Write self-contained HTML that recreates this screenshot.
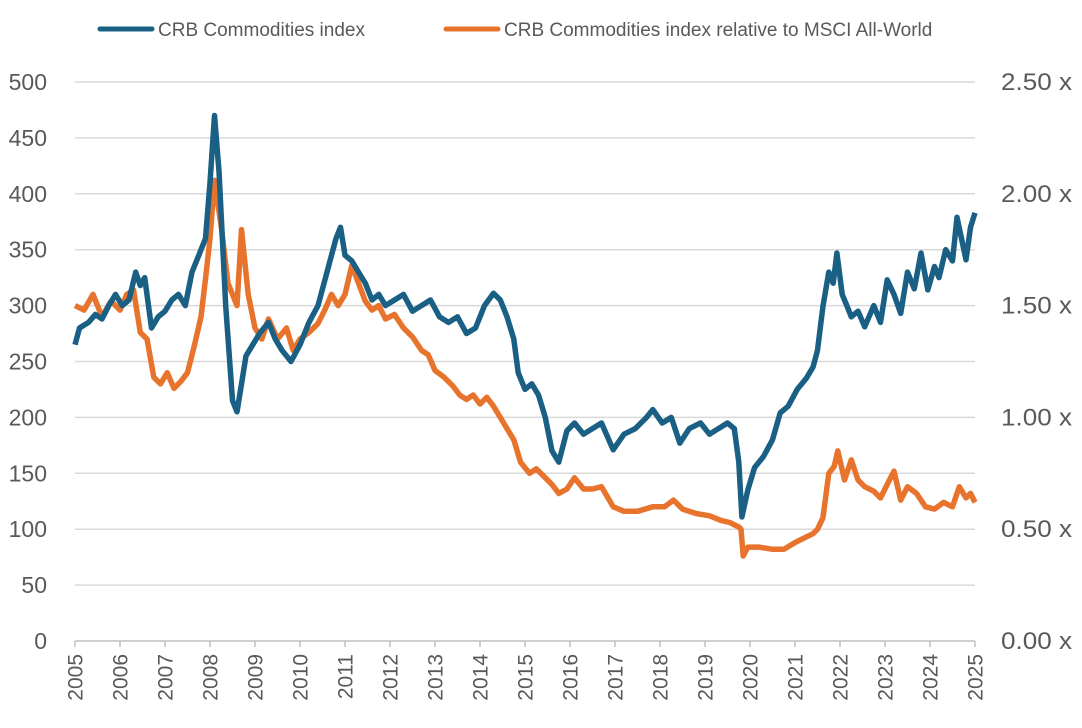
<!DOCTYPE html>
<html><head><meta charset="utf-8"><style>
body{margin:0;background:#fff;}
svg{display:block;font-family:"Liberation Sans",sans-serif;}
</style></head><body>
<svg id="chart" width="1082" height="728" viewBox="0 0 1082 728">
<g id="legend">
<g><line x1="100" y1="29" x2="152" y2="29" stroke="#1a5f84" stroke-width="5" stroke-linecap="round"/><text x="158" y="36" font-size="19" fill="#595959">CRB Commodities index</text></g>
<g><line x1="446" y1="29" x2="498" y2="29" stroke="#e8732c" stroke-width="5" stroke-linecap="round"/><text x="504" y="36" font-size="19" fill="#595959">CRB Commodities index relative to MSCI All-World</text></g>
</g>
<g id="grid"></g>
<g id="ylab"></g>
<g id="y2lab"></g>
<g id="xlab"></g>
<g id="series"></g>
</svg>
<script>
const leftTicks=[0,50,100,150,200,250,300,350,400,450,500];
const rightTicks=["0.00 x","0.50 x","1.00 x","1.50 x","2.00 x","2.50 x"];
const rightTickVals=[0,0.5,1,1.5,2,2.5];
const years=[2005,2006,2007,2008,2009,2010,2011,2012,2013,2014,2015,2016,2017,2018,2019,2020,2021,2022,2023,2024,2025];
const crbT=[2005.0,2005.1,2005.3,2005.45,2005.6,2005.75,2005.9,2006.05,2006.2,2006.35,2006.45,2006.55,2006.7,2006.85,2007.0,2007.15,2007.3,2007.45,2007.6,2007.75,2007.9,2008.0,2008.1,2008.2,2008.35,2008.5,2008.6,2008.7,2008.8,2008.95,2009.1,2009.3,2009.45,2009.6,2009.8,2010.0,2010.2,2010.4,2010.6,2010.8,2010.9,2011.0,2011.15,2011.3,2011.45,2011.6,2011.75,2011.9,2012.1,2012.3,2012.5,2012.7,2012.9,2013.1,2013.3,2013.5,2013.7,2013.9,2014.1,2014.3,2014.45,2014.6,2014.75,2014.85,2015.0,2015.15,2015.3,2015.45,2015.6,2015.75,2015.93,2016.1,2016.3,2016.5,2016.7,2016.96,2017.2,2017.45,2017.7,2017.84,2018.05,2018.25,2018.44,2018.65,2018.9,2019.1,2019.3,2019.5,2019.65,2019.75,2019.82,2019.95,2020.1,2020.3,2020.5,2020.67,2020.85,2021.05,2021.25,2021.4,2021.5,2021.62,2021.75,2021.85,2021.93,2022.05,2022.15,2022.25,2022.4,2022.55,2022.75,2022.9,2023.05,2023.2,2023.35,2023.5,2023.65,2023.8,2023.95,2024.1,2024.2,2024.35,2024.5,2024.6,2024.7,2024.8,2024.9,2025.0];
const crbV=[265,280,285,292,288,300,310,300,305,330,318,325,280,290,295,305,310,300,330,345,360,410,470,420,300,215,205,230,255,265,275,285,270,260,250,265,285,300,330,360,370,345,340,330,320,305,310,300,305,310,295,300,305,290,285,290,275,280,300,311,305,290,270,240,225,230,220,200,170,160,188,195,185,190,195,171,185,190,200,207,195,200,177,190,195,185,190,195,190,160,111,135,155,165,180,204,210,225,235,245,260,299,330,320,347,310,300,290,295,281,300,285,323,310,293,330,315,347,314,335,325,350,340,379,360,341,370,383];
const relT=[2005.0,2005.2,2005.4,2005.6,2005.8,2006.0,2006.15,2006.3,2006.45,2006.6,2006.75,2006.9,2007.05,2007.2,2007.35,2007.5,2007.65,2007.8,2007.9,2008.0,2008.1,2008.25,2008.4,2008.6,2008.7,2008.85,2009.0,2009.15,2009.3,2009.5,2009.7,2009.85,2010.0,2010.2,2010.4,2010.55,2010.7,2010.85,2011.0,2011.15,2011.3,2011.45,2011.6,2011.75,2011.9,2012.1,2012.3,2012.5,2012.7,2012.85,2013.0,2013.2,2013.4,2013.55,2013.7,2013.85,2014.0,2014.15,2014.3,2014.45,2014.6,2014.75,2014.9,2015.1,2015.25,2015.45,2015.6,2015.75,2015.93,2016.1,2016.3,2016.5,2016.7,2016.96,2017.2,2017.5,2017.84,2018.1,2018.3,2018.5,2018.8,2019.1,2019.35,2019.55,2019.75,2019.8,2019.85,2019.95,2020.2,2020.5,2020.75,2021.0,2021.2,2021.4,2021.5,2021.62,2021.75,2021.87,2021.95,2022.1,2022.25,2022.4,2022.55,2022.75,2022.9,2023.05,2023.2,2023.35,2023.5,2023.7,2023.9,2024.1,2024.3,2024.5,2024.65,2024.8,2024.9,2025.0];
const relV=[1.50,1.48,1.55,1.45,1.52,1.48,1.55,1.57,1.38,1.35,1.18,1.15,1.20,1.13,1.16,1.20,1.32,1.45,1.62,1.80,2.06,1.85,1.60,1.50,1.84,1.55,1.40,1.35,1.44,1.35,1.40,1.30,1.35,1.38,1.42,1.48,1.55,1.50,1.55,1.68,1.60,1.52,1.48,1.50,1.44,1.46,1.40,1.36,1.30,1.28,1.21,1.18,1.14,1.10,1.08,1.10,1.06,1.09,1.05,1.00,0.95,0.90,0.80,0.75,0.77,0.73,0.70,0.66,0.68,0.73,0.68,0.68,0.69,0.60,0.58,0.58,0.60,0.60,0.63,0.59,0.57,0.56,0.54,0.53,0.51,0.50,0.38,0.42,0.42,0.41,0.41,0.44,0.46,0.48,0.50,0.55,0.75,0.78,0.85,0.72,0.81,0.72,0.69,0.67,0.64,0.70,0.76,0.63,0.69,0.66,0.60,0.59,0.62,0.60,0.69,0.64,0.66,0.62];

const X0=75,X1=975,Y0=641,Y1=82;
const xs=t=>X0+(t-2005)/(2025-2005)*(X1-X0);
const yL=v=>Y0-v/500*(Y0-Y1);
const yR=v=>Y0-v/2.5*(Y0-Y1);
const NS="http://www.w3.org/2000/svg";
function mk(tag,attrs,parent){const e=document.createElementNS(NS,tag);for(const k in attrs)e.setAttribute(k,attrs[k]);parent.appendChild(e);return e;}
const grid=document.getElementById('grid'),yl=document.getElementById('ylab'),y2=document.getElementById('y2lab'),xl=document.getElementById('xlab'),ser=document.getElementById('series');
leftTicks.forEach(v=>{
  if(v>0){const g=mk('line',{x1:X0,x2:X1,y1:yL(v),y2:yL(v),stroke:'#d9d9d9','stroke-width':1.5},grid);
  
  }
  const t=mk('text',{x:47,y:yL(v)+8,'text-anchor':'end','font-size':23,fill:'#595959'},yl);t.textContent=v;
  
  
});
rightTickVals.forEach((v,i)=>{
  const t=mk('text',{x:1001,y:yR(v)+8,'font-size':24,fill:'#595959',textLength:71,lengthAdjust:'spacingAndGlyphs'},y2);t.textContent=rightTicks[i];
  
  
});
const ax=mk('line',{x1:X0,x2:X1,y1:Y0,y2:Y0,stroke:'#bfbfbf','stroke-width':1.5},xl);


years.forEach(yr=>{
  const x=xs(yr);
  const tk=mk('line',{x1:x,x2:x,y1:Y0,y2:Y0+6,stroke:'#bfbfbf','stroke-width':1.5},xl);
  
  
  const t=mk('text',{x:0,y:0,'font-size':21,fill:'#595959','text-anchor':'end',transform:`translate(${x+7.5},${Y0+13}) rotate(-90)`},xl);t.textContent=yr;
  
  
});
function path(T,V,yf){return T.map((t,i)=>(i?'L':'M')+xs(t).toFixed(1)+','+yf(V[i]).toFixed(1)).join('');}
const p2=mk('path',{d:path(relT,relV,yR),fill:'none',stroke:'#e8732c','stroke-width':5.5,'stroke-linejoin':'round'},ser);


const p1=mk('path',{d:path(crbT,crbV,yL),fill:'none',stroke:'#1a5f84','stroke-width':5.5,'stroke-linejoin':'round'},ser);


</script>
</body></html>
